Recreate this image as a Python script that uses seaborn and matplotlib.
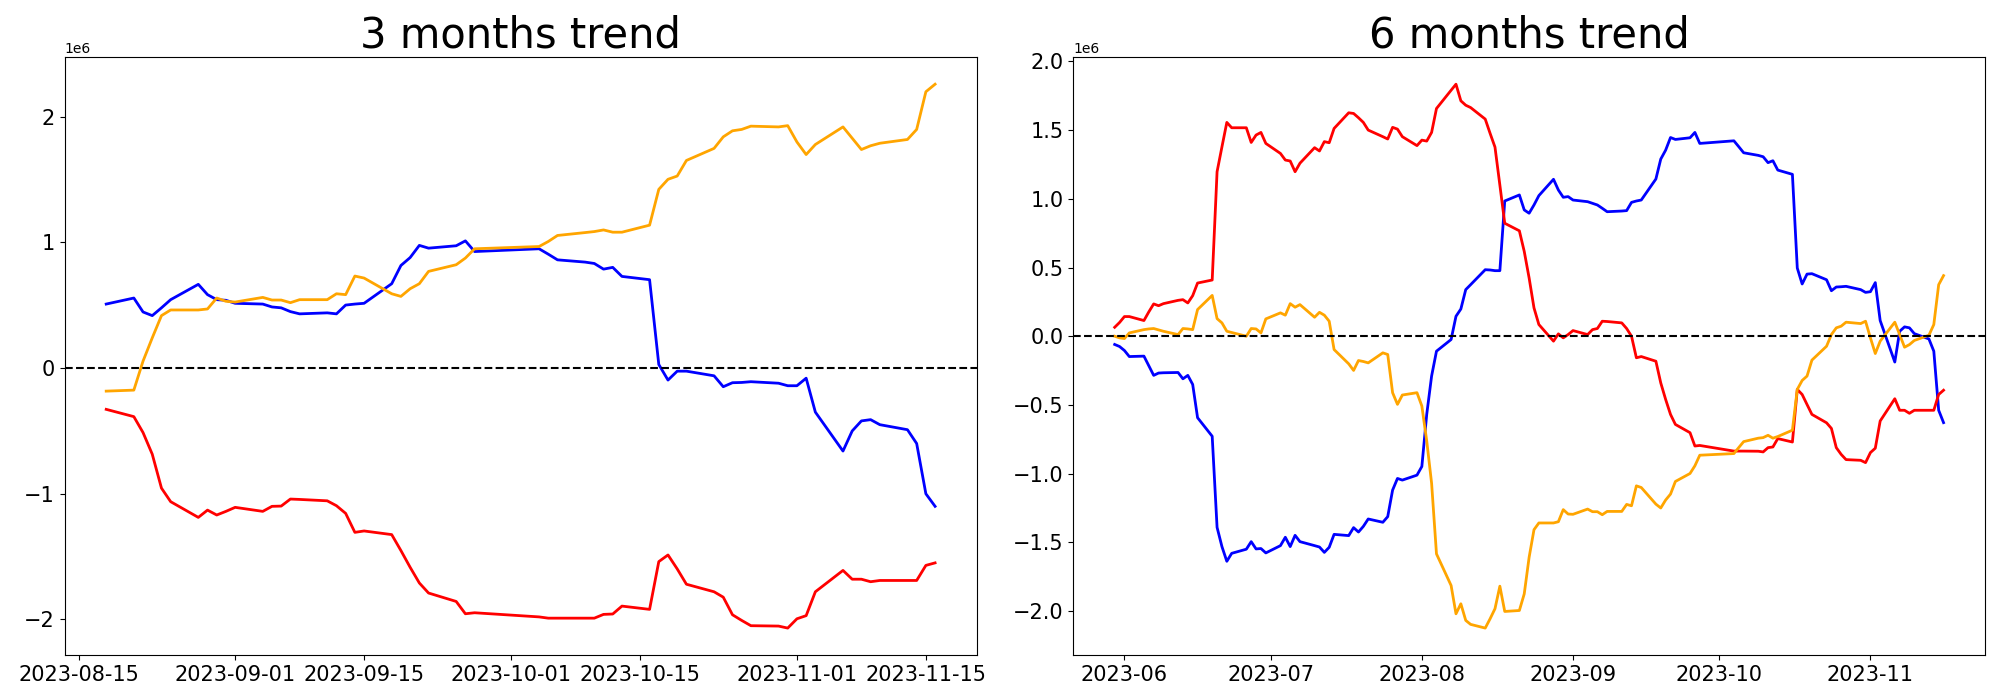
import pandas as pd
import seaborn as sns
from matplotlib import pyplot as plt

# trading days (no data between 2023-09-27 and 2023-10-04)
gap_days = ["2023-09-28", "2023-09-29", "2023-10-02", "2023-10-03"]
dates_3m = pd.bdate_range("2023-08-18", "2023-11-16", freq="C", holidays=gap_days)
dates_6m = pd.bdate_range("2023-05-30", "2023-11-16", freq="C", holidays=gap_days)

# 3 months trend (values in 1e6)
blue_3m = [0.51, 0.558, 0.447, 0.418, 0.48, 0.545, 0.667, 0.585, 0.545, 0.54,
           0.516, 0.51, 0.487, 0.48, 0.45, 0.432, 0.44, 0.432, 0.502, 0.51,
           0.516, 0.672, 0.817, 0.88, 0.977, 0.955, 0.974, 1.013, 0.928,
           0.95, 0.907, 0.862, 0.844, 0.833, 0.788, 0.802, 0.73, 0.704, 0.029,
           -0.095, -0.024, -0.024, -0.061, -0.148, -0.116, -0.114, -0.108, -0.12, -0.14,
           -0.14, -0.08, -0.35, -0.66, -0.5, -0.42, -0.41, -0.45, -0.49, -0.6,
           -1.0, -1.1]
red_3m = [-0.328, -0.386, -0.513, -0.685, -0.955, -1.063, -1.188, -1.13, -1.169, -1.14,
          -1.108, -1.14, -1.1, -1.098, -1.042, -1.045, -1.056, -1.095, -1.156, -1.307,
          -1.296, -1.325, -1.452, -1.585, -1.71, -1.79, -1.857, -1.955, -1.947,
          -1.98, -1.99, -1.99, -1.99, -1.99, -1.96, -1.957, -1.894, -1.92, -1.54,
          -1.487, -1.598, -1.72, -1.78, -1.823, -1.963, -2.008, -2.05, -2.053, -2.069,
          -1.995, -1.97, -1.78, -1.61, -1.68, -1.68, -1.7, -1.69, -1.69, -1.69,
          -1.57, -1.55]
orange_3m = [-0.183, -0.175, 0.056, 0.241, 0.418, 0.463, 0.463, 0.471, 0.558, 0.532,
             0.526, 0.563, 0.542, 0.542, 0.521, 0.545, 0.545, 0.592, 0.585, 0.733,
             0.717, 0.592, 0.571, 0.632, 0.672, 0.77, 0.823, 0.876, 0.95,
             0.968, 1.008, 1.056, 1.079, 1.087, 1.1, 1.082, 1.082, 1.138, 1.423,
             1.503, 1.529, 1.653, 1.749, 1.841, 1.889, 1.9, 1.926, 1.92, 1.93,
             1.8, 1.7, 1.78, 1.92, 1.83, 1.74, 1.77, 1.79, 1.82, 1.9,
             2.2, 2.26]

# 6 months trend (values in 1e6)
blue_6m = [-0.06, -0.075, -0.104, -0.148, -0.145, -0.215, -0.285, -0.268, -0.266, -0.264,
           -0.31, -0.285, -0.351, -0.593, -0.728, -1.391, -1.531, -1.638, -1.58, -1.55,
           -1.495, -1.548, -1.545, -1.577,
           -1.524, -1.463, -1.531, -1.449, -1.495, -1.524, -1.534, -1.573, -1.536, -1.442,
           -1.451, -1.393, -1.425, -1.384, -1.33, -1.354, -1.313, -1.12, -1.035, -1.047,
           -1.011,
           -0.948, -0.569, -0.29, -0.109, -0.024, 0.145, 0.198, 0.339, 0.375, 0.484,
           0.482, 0.477, 0.477, 0.984, 1.028, 0.919, 0.895, 0.955, 1.023, 1.142,
           1.064, 1.011, 1.016,
           0.991, 0.979, 0.967, 0.955, 0.931, 0.906, 0.911, 0.914, 0.974, 0.984,
           0.991, 1.144, 1.289, 1.354, 1.446, 1.432, 1.444, 1.483, 1.403,
           1.422, 1.379, 1.335, 1.316, 1.306, 1.263, 1.277, 1.209, 1.178, 0.496,
           0.38, 0.452, 0.455, 0.411, 0.331, 0.358, 0.36, 0.363, 0.339, 0.319,
           0.324, 0.39, 0.114, -0.188, 0.036, 0.068, 0.061, 0.019, -0.02, -0.109,
           -0.539, -0.629]
red_6m = [0.065, 0.1, 0.143, 0.143, 0.114, 0.177, 0.235, 0.222, 0.237, 0.261,
          0.266, 0.242, 0.295, 0.387, 0.409, 1.197, 1.378, 1.556, 1.517, 1.517,
          1.41, 1.464, 1.483, 1.403,
          1.33, 1.282, 1.275, 1.197, 1.259, 1.372, 1.348, 1.416, 1.408, 1.512,
          1.626, 1.621, 1.59, 1.556, 1.5, 1.452, 1.435, 1.52, 1.507, 1.452,
          1.387,
          1.427, 1.42, 1.483, 1.657, 1.79, 1.834, 1.713, 1.681, 1.664, 1.58,
          1.476, 1.376, 1.1, 0.822, 0.767, 0.617, 0.424, 0.206, 0.085, -0.036,
          0.017, -0.012, 0.012,
          0.041, 0.012, 0.048, 0.056, 0.109, 0.107, 0.097, 0.056, 0.0, -0.157,
          -0.148, -0.182, -0.34, -0.46, -0.569, -0.642, -0.702, -0.799, -0.795,
          -0.836, -0.836, -0.836, -0.837, -0.842, -0.811, -0.806, -0.745, -0.77, -0.387,
          -0.424, -0.497, -0.569, -0.63, -0.671, -0.811, -0.86, -0.898, -0.903, -0.92,
          -0.847, -0.815, -0.617, -0.455, -0.539, -0.539, -0.561, -0.539, -0.539, -0.539,
          -0.424, -0.393]
orange_6m = [0.0, -0.012, -0.017, 0.024, 0.048, 0.053, 0.056, 0.046, 0.036, 0.012,
             0.056, 0.053, 0.048, 0.194, 0.297, 0.128, 0.097, 0.036, 0.027, 0.0,
             0.056, 0.053, 0.024, 0.126,
             0.17, 0.153, 0.237, 0.211, 0.23, 0.138, 0.174, 0.153, 0.109, -0.097,
             -0.201, -0.249, -0.177, -0.184, -0.194, -0.121, -0.133, -0.411, -0.496, -0.428,
             -0.411,
             -0.508, -0.762, -1.07, -1.584, -1.814, -2.02, -1.947, -2.068, -2.097, -2.124,
             -2.056, -1.983, -1.819, -2.003, -1.996, -1.875, -1.609, -1.408, -1.359, -1.359,
             -1.35, -1.262, -1.294,
             -1.296, -1.258, -1.277, -1.277, -1.299, -1.275, -1.275, -1.224, -1.234, -1.089,
             -1.101, -1.222, -1.25, -1.192, -1.149, -1.057, -0.999, -0.943, -0.866,
             -0.854, -0.81, -0.767, -0.742, -0.738, -0.721, -0.742, -0.73, -0.684, -0.387,
             -0.322, -0.29, -0.174, -0.073, 0.012, 0.061, 0.073, 0.102, 0.092, 0.109,
             -0.012, -0.126, -0.036, 0.102, 0.012, -0.08, -0.061, -0.031, 0.007, 0.085,
             0.375, 0.441]

df_3m = pd.DataFrame({"date": dates_3m, "blue": blue_3m, "red": red_3m, "orange": orange_3m})
df_6m = pd.DataFrame({"date": dates_6m, "blue": blue_6m, "red": red_6m, "orange": orange_6m})
for df in (df_3m, df_6m):
    for col in ("blue", "red", "orange"):
        df[col] = df[col] * 1e6

fig, axes = plt.subplots(1, 2, figsize=(20, 7))

for ax, df, title in zip(axes, (df_3m, df_6m), ("3 months trend", "6 months trend")):
    for col in ("blue", "red", "orange"):
        sns.lineplot(data=df, x="date", y=col, color=col, linewidth=2, ax=ax)
    ax.axhline(0, color="black", linestyle="--", linewidth=1.5)
    ax.set_title(title, fontsize=30)
    ax.set(xlabel=None, ylabel=None)
    ax.tick_params(labelsize=15)

plt.tight_layout()
plt.savefig("out.png", dpi=100)
